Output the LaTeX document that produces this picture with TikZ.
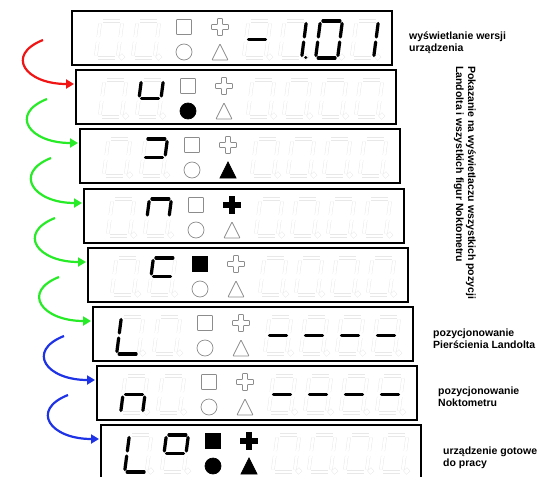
\documentclass[tikz,border=0pt]{standalone}
\usepackage{fontspec}
\setmainfont{Liberation Sans}
\usepackage{tikz}
\usetikzlibrary{positioning, arrows.meta, calc}

\tikzset{
  panelbox/.style={draw, line width=2.4pt, minimum width=320pt, minimum height=54pt,
    inner sep=0pt, outer sep=0pt, anchor=north west},
  segoff/.style={draw=black!9, line width=0.45pt, double=white, double distance=2.6pt},
  segon/.style={draw=black, line width=3.2pt, line cap=round},
  figoff/.style={draw=black!45, fill=white, line width=0.7pt, rounded corners=0.6pt},
  figon/.style={draw=black, fill=black, line width=0.7pt},
  bendarrow/.style={line width=2.2pt, -{Triangle[length=8pt, width=9pt]}},
  sidetext/.style={font=\bfseries\fontsize{10.5}{12}\selectfont, align=left,
    inner sep=0pt, anchor=west}
}

% one slanted seven segment digit: centre x, bottom y, lit segments
\newcommand{\segdigit}[3]{%
  \begin{scope}[shift={(#1-13.4,#2)}, xslant=0.13, yscale=-1]
    \coordinate (a1) at (2.5,37);   \coordinate (a2) at (19.5,37);
    \coordinate (b1) at (22,34.5);  \coordinate (b2) at (22,21);
    \coordinate (c1) at (22,16);    \coordinate (c2) at (22,2.5);
    \coordinate (d1) at (2.5,0);    \coordinate (d2) at (19.5,0);
    \coordinate (e1) at (0,16);     \coordinate (e2) at (0,2.5);
    \coordinate (f1) at (0,34.5);   \coordinate (f2) at (0,21);
    \coordinate (g1) at (2.5,18.5); \coordinate (g2) at (19.5,18.5);
    \coordinate (p1) at (26,0.8);   \coordinate (p2) at (26.2,0.8);
    \foreach \s in {a,b,c,d,e,f,g} \draw[segoff] (\s1) -- (\s2);
    \draw[segoff] (26,1) circle (1.1);
    \def\litlist{#3}%
    \ifx\litlist\empty\else
      \foreach \s in {#3} \draw[segon] (\s1) -- (\s2);
    \fi
  \end{scope}}

% the six digits of a panel: panel corner, then lit segments of each digit
\newcommand{\digitrow}[8]{%
  \segdigit{#1+37}{#2+47}{#3}
  \segdigit{#1+74}{#2+47}{#4}
  \segdigit{#1+185}{#2+47}{#5}
  \segdigit{#1+221}{#2+47}{#6}
  \segdigit{#1+257}{#2+47}{#7}
  \segdigit{#1+293}{#2+47}{#8}}

% square, circle, cross and triangle of a panel
\newcommand{\figset}[6]{%
  \begin{scope}[shift={(#1,#2)}]
    \path[#3] (104.5,8.5) rectangle (119.5,23.5);
    \path[#4] (112,41) circle (8);
    \path[#5] (145.5,7.5) -- (150.5,7.5) -- (150.5,13.5) -- (156.5,13.5)
      -- (156.5,18.5) -- (150.5,18.5) -- (150.5,24.5) -- (145.5,24.5)
      -- (145.5,18.5) -- (139.5,18.5) -- (139.5,13.5) -- (145.5,13.5) -- cycle;
    \path[#6] (140,49) -- (156,49) -- (148,33) -- cycle;
  \end{scope}}

\definecolor{arrowred}{RGB}{240,20,20}
\definecolor{arrowgreen}{RGB}{40,235,40}
\definecolor{arrowblue}{RGB}{30,50,230}

\begin{document}
\begin{tikzpicture}[x=1pt, y=-1pt]
    \clip (0,0) rectangle (540,476);

    % Panel 1: software version
    \node[panelbox] (panel1) at (72,11) {};
    \digitrow{72}{11}{}{}{g}{b,c,p}{a,b,c,d,e,f}{b,c}
    \figset{72}{11}{figoff}{figoff}{figoff}{figoff}

    % Panel 2: u and circle
    \node[panelbox] (panel2) at (76,70) {};
    \digitrow{76}{70}{}{f,b,g}{}{}{}{}
    \figset{76}{70}{figoff}{figon}{figoff}{figoff}

    % Panel 3: reversed c and triangle
    \node[panelbox] (panel3) at (80,129) {};
    \digitrow{80}{129}{}{a,b,g}{}{}{}{}
    \figset{80}{129}{figoff}{figoff}{figoff}{figon}

    % Panel 4: n and cross
    \node[panelbox] (panel4) at (84,189) {};
    \digitrow{84}{189}{}{a,b,f}{}{}{}{}
    \figset{84}{189}{figoff}{figoff}{figon}{figoff}

    % Panel 5: c and square
    \node[panelbox] (panel5) at (88,248) {};
    \digitrow{88}{248}{}{a,f,g}{}{}{}{}
    \figset{88}{248}{figon}{figoff}{figoff}{figoff}

    % Panel 6: Landolt ring
    \node[panelbox] (panel6) at (93,307) {};
    \digitrow{93}{307}{f,e,d}{}{g}{g}{g}{g}
    \figset{93}{307}{figoff}{figoff}{figoff}{figoff}

    % Panel 7: noctometer
    \node[panelbox] (panel7) at (97,366) {};
    \digitrow{97}{366}{g,e,c}{}{g}{g}{g}{g}
    \figset{97}{366}{figoff}{figoff}{figoff}{figoff}

    % Panel 8: ready
    \node[panelbox] (panel8) at (101,425) {};
    \digitrow{101}{425}{f,e,d}{a,b,g,f}{}{}{}{}
    \figset{101}{425}{figon}{figon}{figon}{figon}

    % Arrow tails
    \coordinate (tail2) at ($(panel1.north west)+(-29,29)$);
    \coordinate (tail3) at ($(panel2.north west)+(-29,29)$);
    \coordinate (tail4) at ($(panel3.north west)+(-29,29)$);
    \coordinate (tail5) at ($(panel4.north west)+(-29,29)$);
    \coordinate (tail6) at ($(panel5.north west)+(-29,29)$);
    \coordinate (tail7) at ($(panel6.north west)+(-29,29)$);
    \coordinate (tail8) at ($(panel7.north west)+(-29,29)$);

    % Arrows between panels
    \draw[bendarrow, arrowred] (tail2) .. controls +(-38,15) and +(-49,0) .. ([xshift=-2pt,yshift=-14pt]panel2.north west);
    \draw[bendarrow, arrowgreen] (tail3) .. controls +(-38,15) and +(-49,0) .. ([xshift=-2pt,yshift=-14pt]panel3.north west);
    \draw[bendarrow, arrowgreen] (tail4) .. controls +(-38,15) and +(-49,0) .. ([xshift=-2pt,yshift=-14pt]panel4.north west);
    \draw[bendarrow, arrowgreen] (tail5) .. controls +(-38,15) and +(-49,0) .. ([xshift=-2pt,yshift=-14pt]panel5.north west);
    \draw[bendarrow, arrowgreen] (tail6) .. controls +(-38,15) and +(-49,0) .. ([xshift=-2pt,yshift=-14pt]panel6.north west);
    \draw[bendarrow, arrowblue] (tail7) .. controls +(-38,15) and +(-49,0) .. ([xshift=-2pt,yshift=-14pt]panel7.north west);
    \draw[bendarrow, arrowblue] (tail8) .. controls +(-38,15) and +(-49,0) .. ([xshift=-2pt,yshift=-14pt]panel8.north west);

    % Descriptions
    \node[sidetext] (version) at (409,43) {wyświetlanie wersji\\urządzenia};
    \node[sidetext, rotate=-90, anchor=north west] (showall) at (476,66)
      {Pokazanie na wyświetlaczu wszystkich pozycji\\Landolta i wszystkich figur Noktometru};
    \node[sidetext] (ringpos) at (433,339) {pozycjonowanie\\Pierścienia Landolta};
    \node[sidetext] (noktopos) at (438,397) {pozycjonowanie\\Noktometru};
    \node[sidetext] (ready) at (443,458) {urządzenie gotowe\\do pracy};
\end{tikzpicture}
\end{document}
